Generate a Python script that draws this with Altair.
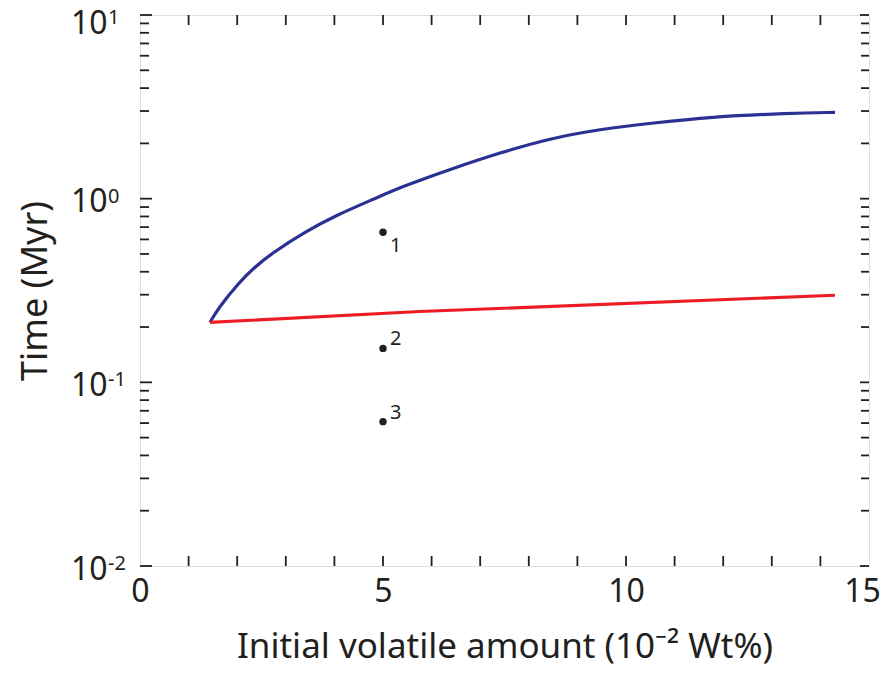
import altair as alt
import pandas as pd

# ---- data ----
blue_x = [1.44, 1.61, 2.02, 2.37, 2.71, 3.40, 4.08, 4.77, 5.38, 6.38, 7.41, 8.44, 9.47, 10.49, 11.73, 13.37, 14.30]
blue_y = [0.212, 0.253, 0.346, 0.426, 0.504, 0.661, 0.822, 0.984, 1.16, 1.445, 1.78, 2.13, 2.39, 2.57, 2.79, 2.92, 2.95]

red_x = [1.44, 5.76, 14.30]
red_y = [0.212, 0.243, 0.298]

pts_x = [5, 5, 5]
pts_y = [0.656, 0.153, 0.0611]
pts_lab = ["1", "2", "3"]

x_major = [0, 5, 10, 15]
x_minor = list(range(1, 15))
y_major = [0.01, 0.1, 1, 10]
y_exp = ["-2", "-1", "0", "1"]
y_minor = [m * 10.0 ** e for e in (-2, -1, 0) for m in range(2, 10)]

W, H = 729, 551
FONT = "Noto Sans"
INK = "#231f20"

xs = alt.Scale(domain=[0, 15], nice=False, zero=False)
ys = alt.Scale(type="log", domain=[0.01, 10], nice=False)

blue = pd.DataFrame({"x": blue_x, "y": blue_y})
red = pd.DataFrame({"x": red_x, "y": red_y})
pts = pd.DataFrame({"x": pts_x, "y": pts_y, "lab": pts_lab})
xmin = pd.DataFrame({"x": x_minor})
ymaj = pd.DataFrame({"y": y_major, "e": y_exp})
ymin = pd.DataFrame({"y": y_minor})

base_x = alt.X("x:Q", scale=xs,
               axis=alt.Axis(values=x_major, tickSize=0, domain=False, grid=False,
                             labelFontSize=32, labelFont=FONT, labelColor=INK,
                             labelPadding=10, labelFlush=False,
                             labelOffset={"condition": {"test": "datum.value == 15", "value": -7}, "value": 0},
                             title="Initial volatile amount (10⁻² Wt%)",
                             titleFont=FONT, titleFontSize=35, titleFontWeight="normal",
                             titleColor=INK, titleX=W / 2, titleY=80,
                             titleBaseline="middle", titleAlign="center"))
base_y = alt.Y("y:Q", scale=ys,
               axis=alt.Axis(values=y_major, tickSize=0, domain=False, grid=False,
                             labelExpr="'10'", labelFontSize=32, labelFont=FONT,
                             labelColor=INK, labelPadding=33,
                             labelOffset={"condition": {"test": "datum.value == 10", "value": 8}, "value": 3},
                             labelFlush=False,
                             title="Time (Myr)", titleFont=FONT, titleFontSize=36,
                             titleFontWeight="normal", titleColor=INK,
                             titleX=-105, titleY=H / 2, titleAngle=-90,
                             titleBaseline="middle", titleAlign="center"))

blue_line = alt.Chart(blue).mark_line(color="#2b3192", strokeWidth=3.2,
                                      interpolate="basis").encode(x=base_x, y=base_y)
red_line = alt.Chart(red).mark_line(color="#ed1c24", strokeWidth=3.2).encode(
    x=alt.X("x:Q", scale=xs), y=alt.Y("y:Q", scale=ys))
dots = alt.Chart(pts).mark_circle(color=INK, size=55, opacity=1).encode(
    x=alt.X("x:Q", scale=xs), y=alt.Y("y:Q", scale=ys))
lab1 = alt.Chart(pts[pts.lab == "1"]).mark_text(
    font=FONT, fontSize=20, color=INK, align="left", baseline="middle", dx=7, dy=14
).encode(x=alt.X("x:Q", scale=xs), y=alt.Y("y:Q", scale=ys), text="lab:N")
lab23 = alt.Chart(pts[pts.lab != "1"]).mark_text(
    font=FONT, fontSize=20, color=INK, align="left", baseline="middle", dx=7, dy=-9
).encode(x=alt.X("x:Q", scale=xs), y=alt.Y("y:Q", scale=ys), text="lab:N")

exps_low = alt.Chart(ymaj[ymaj.y < 5]).mark_text(
    font=FONT, fontSize=20, color=INK, align="left", baseline="middle", dy=-2
).encode(x=alt.value(-32), y=alt.Y("y:Q", scale=ys), text="e:N")
exps_top = alt.Chart(ymaj[ymaj.y > 5]).mark_text(
    font=FONT, fontSize=20, color=INK, align="left", baseline="middle", dy=3
).encode(x=alt.value(-32), y=alt.Y("y:Q", scale=ys), text="e:N")

def yticks(df, x0, x1):
    return alt.Chart(df).mark_rule(color=INK, strokeWidth=1.8).encode(
        x=alt.value(x0), x2=alt.value(x1), y=alt.Y("y:Q", scale=ys))

def xticks(df, y0, y1):
    return alt.Chart(df).mark_rule(color=INK, strokeWidth=1.8).encode(
        y=alt.value(y0), y2=alt.value(y1), x=alt.X("x:Q", scale=xs))

ticks = [
    yticks(ymaj, 0, 12), yticks(ymin, 0, 9),
    yticks(ymaj, W, W - 9), yticks(ymin, W, W - 8),
    xticks(xmin, H, H - 10), xticks(xmin, 0, 10),
]

chart = alt.layer(blue_line, red_line, dots, lab1, lab23, exps_low, exps_top, *ticks).properties(
    width=W, height=H,
    autosize=alt.AutoSizeParams(type="none"),
    padding={"left": 132, "top": 7, "right": 11, "bottom": 101},
).configure_view(stroke=INK, strokeWidth=2.2).configure(background="white")

chart.save("out.html", embed_options={"renderer": "svg", "actions": False})
